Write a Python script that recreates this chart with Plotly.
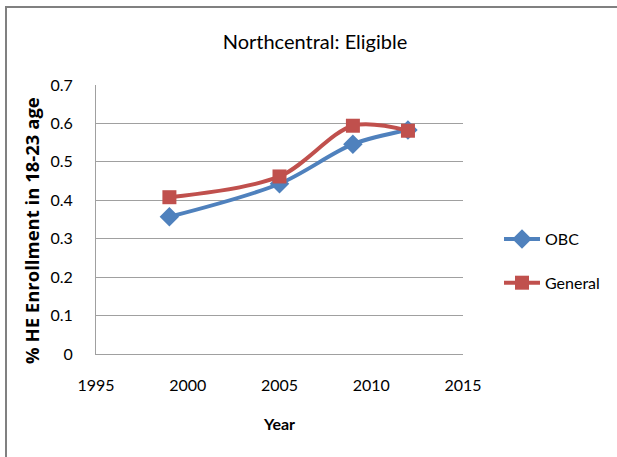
import plotly.graph_objects as go

years = [1999, 2005, 2009, 2012]
obc = [0.357, 0.443, 0.546, 0.583]
general = [0.408, 0.462, 0.594, 0.581]
x_ticks = [1995, 2000, 2005, 2010, 2015]
y_ticks = [0, 0.1, 0.2, 0.3, 0.4, 0.5, 0.6, 0.7]
y_labels = ["0", "0.1", "0.2", "0.3", "0.4", "0.5", "0.6", "0.7"]

FONT = "Lato, sans-serif"
W, H = 617, 457
L, R, T, B = 96, 154, 85, 103
pw = W - L - R
ph = H - T - B

fig = go.Figure()
fig.add_trace(go.Scatter(
    x=years, y=obc, name="OBC", mode="lines+markers", legendgroup="a",
    line=dict(color="#4F81BD", width=4, shape="spline", smoothing=0.9),
    marker=dict(symbol="diamond", size=15, color="#4F81BD"),
))
fig.add_trace(go.Scatter(
    x=years, y=general, name="General", mode="lines+markers", legendgroup="b",
    line=dict(color="#C0504D", width=4, shape="spline", smoothing=0.9),
    marker=dict(symbol="square", size=14, color="#C0504D"),
))

fig.update_layout(
    width=W, height=H,
    margin=dict(l=L, r=R, t=T, b=B, autoexpand=False),
    paper_bgcolor="white", plot_bgcolor="white",
    font=dict(family=FONT, size=16, color="#000"),
    title=dict(text="Northcentral: Eligible", x=315 / W, xanchor="center",
               y=1 - 42 / H, yanchor="middle",
               font=dict(family=FONT, size=20, color="#000")),
    xaxis=dict(range=[1995, 2015], tickvals=x_ticks,
               showgrid=False, showline=True,
               linecolor="#A0A0A0", linewidth=1, zeroline=False,
               ticks="", ticklabelstandoff=17, tickfont=dict(size=16),
               title=dict(text="<b>Year</b>", font=dict(size=16), standoff=25)),
    yaxis=dict(range=[0, 0.7], tickvals=y_ticks, ticktext=y_labels,
               showgrid=True, gridcolor="#A0A0A0", gridwidth=1,
               showline=True, linecolor="#A0A0A0", zeroline=False,
               ticks="", ticklabelstandoff=19, tickfont=dict(size=16)),
    annotations=[dict(text="<b>% HE Enrollment in 18-23 age</b>", textangle=-90,
                      xref="paper", yref="paper",
                      x=(31 - L) / pw, y=(354 - 231) / ph,
                      xanchor="center", yanchor="middle", showarrow=False,
                      font=dict(family="Open Sans, sans-serif", size=18.5, color="#000"))],
    legend=dict(x=1 + (499 - (W - R)) / pw, y=(354 - 261) / ph,
                xanchor="left", yanchor="middle",
                font=dict(size=16), tracegroupgap=20, itemwidth=36,
                bgcolor="rgba(0,0,0,0)"),
    shapes=[dict(type="rect", xref="paper", yref="paper",
                 x0=(6 - L) / pw, x1=(W + 20 - L) / pw,
                 y0=-(B + 20) / ph, y1=1 + (T - 7) / ph,
                 line=dict(color="#808080", width=2), fillcolor="rgba(0,0,0,0)")],
)
fig.write_html("out.html")
